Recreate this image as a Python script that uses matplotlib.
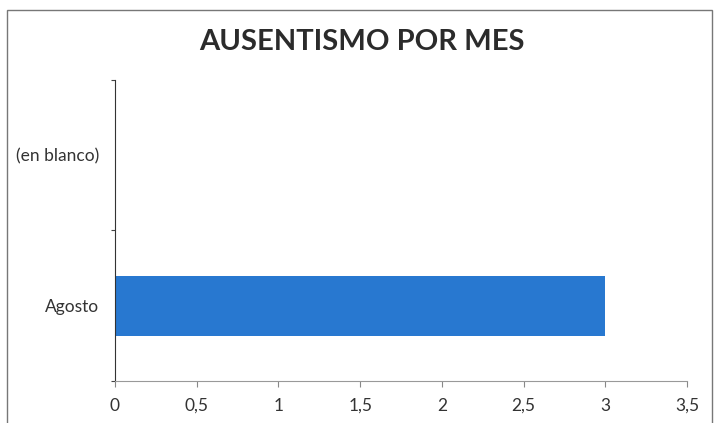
import matplotlib.pyplot as plt
from matplotlib.patches import Rectangle
from matplotlib.ticker import FixedLocator, NullFormatter

plt.rcParams['font.family'] = ['Lato', 'DejaVu Sans']

meses = ["Agosto", "(en blanco)"]
ausencias = [3, 0]
x_ticks = [0, 0.5, 1, 1.5, 2, 2.5, 3, 3.5]
x_labels = ["0", "0,5", "1", "1,5", "2", "2,5", "3", "3,5"]

fig = plt.figure(figsize=(7.21, 4.23), dpi=100)
ax = fig.add_axes([0.1595, 0.0993, 0.7933, 0.7116])

pos = list(range(len(meses)))
ax.barh(pos, ausencias, height=0.4, color='#2878D0')

ax.set_xlim(0, 3.5)
ax.set_ylim(-0.5, len(meses) - 0.5)
ax.set_xticks(x_ticks)
ax.set_xticklabels(x_labels)

# category boundaries get the tick marks, labels sit in between
ax.yaxis.set_major_locator(FixedLocator([p - 0.5 for p in pos] + [pos[-1] + 0.5]))
ax.yaxis.set_major_formatter(NullFormatter())
ax.set_yticks(pos, minor=True)
ax.set_yticklabels(meses, minor=True)
ax.tick_params(axis='y', which='minor', length=0, pad=11.5)
ax.tick_params(axis='y', which='major', length=3, color='#444444')
ax.tick_params(axis='x', length=4, pad=8, color='#888888')
ax.tick_params(which='both', labelsize=12.5, labelcolor='#333333')

for s in ['top', 'right']:
    ax.spines[s].set_visible(False)
ax.spines['left'].set_color('#333333')
ax.spines['bottom'].set_color('#999999')

fig.text(0.502, 0.90, "AUSENTISMO POR MES", ha='center', va='center',
         fontsize=21, fontweight='bold', color='#2b2b2b')

# outer chart frame (bottom edge runs off the picture)
fig.patches.append(Rectangle((7 / 721, -0.05), 705 / 721, 1.05 - 10 / 423,
                             transform=fig.transFigure, fill=False,
                             edgecolor='#777777', linewidth=1.0))

fig.savefig("out.png", dpi=100)
